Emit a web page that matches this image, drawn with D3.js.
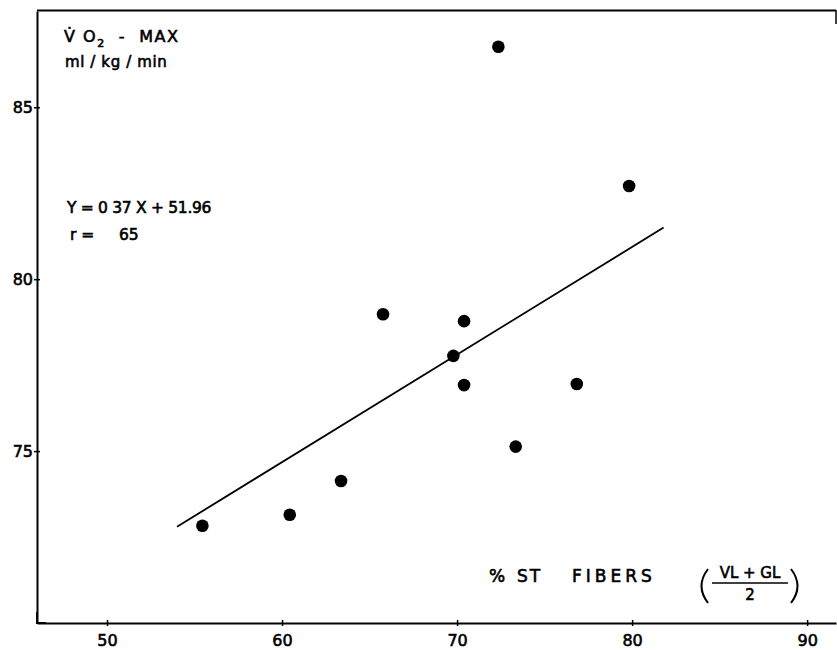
<!DOCTYPE html>
<html>
<head>
<meta charset="utf-8">
<script src="https://cdn.jsdelivr.net/npm/d3@7"></script>
<style>
  body { margin: 0; background: #fff; }
  svg text { font-family: "DejaVu Sans", sans-serif; fill: #000; }
  svg .lbl { stroke: #000; stroke-width: 0.6px; }
</style>
</head>
<body>
<svg id="chart"></svg>
<script>
// values
var xTicks = [50, 60, 70, 80, 90];
var yTicks = [75, 80, 85];
var fiberPct = [55.45, 60.44, 63.37, 65.77, 69.79, 70.4, 70.4, 73.35, 72.36, 79.83, 76.84];
var vo2max   = [72.83, 73.15, 74.13, 78.98, 77.77, 78.78, 76.92, 75.13, 86.76, 82.71, 76.95];
var fitX = [54.0, 81.8];
var fitY = [72.8, 81.5];
var eqText = "Y = 0 37 X + 51.96";
var rText = ["r =", "65"];

function render()
{
	var width = 837, height = 650;
	var svg = d3.select('#chart')
		.attr('width', width)
		.attr('height', height);

	var xScale = d3.scaleLinear().domain([46, 91.65]).range([37, 836]);
	var yScale = d3.scaleLinear().domain([70, 87.8]).range([623, 11]);

	// frame: top border and little right stub
	svg.append('line')
		.attr('x1', 37).attr('x2', 836)
		.attr('y1', 10.5).attr('y2', 10.5)
		.attr('stroke', '#000').attr('stroke-width', 2);
	svg.append('line')
		.attr('x1', 836).attr('x2', 836)
		.attr('y1', 10).attr('y2', 24)
		.attr('stroke', '#000').attr('stroke-width', 1.5);

	var xAxis = d3.axisBottom(xScale)
		.tickValues(xTicks)
		.tickSizeInner(3).tickSizeOuter(0)
		.tickPadding(9);
	var yAxis = d3.axisLeft(yScale)
		.tickValues(yTicks)
		.tickSizeInner(3).tickSizeOuter(0)
		.tickPadding(1);

	var gx = svg.append('g')
		.attr('transform', 'translate(0,623)')
		.call(xAxis);
	var gy = svg.append('g')
		.attr('transform', 'translate(37,0)')
		.call(yAxis);

	[gx, gy].forEach(function(g) {
		g.select('.domain').attr('stroke-width', 2);
		g.selectAll('text')
			.attr('class', 'lbl')
			.style('font-family', '"DejaVu Sans", sans-serif')
			.style('font-size', '16px')
			.attr('fill', '#000');
		g.selectAll('.tick line').attr('stroke-width', 1.5);
	});
	// ticks cross the axis line
	gx.selectAll('.tick line').attr('y1', -3).attr('y2', 3);
	gy.selectAll('.tick line').attr('x1', -3).attr('x2', 3);

	// small corner mark at origin
	svg.append('path')
		.attr('d', 'M37,612 L37,623 L46,623')
		.attr('fill', 'none').attr('stroke', '#000').attr('stroke-width', 2);

	// regression line
	svg.append('line')
		.attr('x1', xScale(fitX[0])).attr('y1', yScale(fitY[0]))
		.attr('x2', xScale(fitX[1])).attr('y2', yScale(fitY[1]))
		.attr('stroke', '#000').attr('stroke-width', 1.8);

	// points
	svg.append('g').selectAll('circle')
		.data(d3.range(fiberPct.length))
		.enter()
		.append('circle')
		.attr('cx', function(i) { return xScale(fiberPct[i]); })
		.attr('cy', function(i) { return yScale(vo2max[i]); })
		.attr('r', 6.3)
		.attr('fill', '#000');

	// y title
	var t1 = svg.append('text').attr('class', 'lbl')
		.attr('x', 64).attr('y', 42)
		.style('font-size', '16px')
		.style('letter-spacing', '1.5px');
	t1.append('tspan').text('V\u0307 O');
	t1.append('tspan').attr('dy', 5).style('font-size', '11px').text('2');
	t1.append('tspan').attr('dy', -5).attr('xml:space', 'preserve').text('  -  MAX');
	svg.append('text').attr('class', 'lbl')
		.attr('x', 65).attr('y', 67)
		.style('font-size', '15px')
		.style('letter-spacing', '0.6px')
		.text('ml / kg / min');

	// regression text
	svg.append('text').attr('class', 'lbl')
		.attr('x', 67).attr('y', 213)
		.style('font-size', '15.5px')
		.style('letter-spacing', '-0.3px')
		.text(eqText);
	svg.append('text').attr('class', 'lbl')
		.attr('x', 70).attr('y', 240)
		.style('font-size', '15.5px')
		.text(rText[0]);
	svg.append('text').attr('class', 'lbl')
		.attr('x', 119).attr('y', 240)
		.style('font-size', '15.5px')
		.text(rText[1]);

	// x title
	var xt = svg.append('g').style('font-size', '17px');
	xt.append('text').attr('class', 'lbl').attr('x', 489).attr('y', 582).text('%');
	xt.append('text').attr('class', 'lbl').attr('x', 517).attr('y', 582).style('letter-spacing', '2px').text('ST');
	xt.append('text').attr('class', 'lbl').attr('x', 572).attr('y', 582).style('letter-spacing', '4px').text('FIBERS');
	xt.append('text').attr('class', 'lbl').attr('x', 750).attr('y', 578)
		.attr('text-anchor', 'middle').style('font-size', '15px')
		.text('VL + GL');
	xt.append('line')
		.attr('x1', 712).attr('x2', 788).attr('y1', 583).attr('y2', 583)
		.attr('stroke', '#000').attr('stroke-width', 1.6);
	xt.append('text').attr('class', 'lbl').attr('x', 750).attr('y', 600)
		.attr('text-anchor', 'middle').style('font-size', '15px')
		.text('2');
	xt.append('path')
		.attr('d', 'M708,569 Q695,586 708,603')
		.attr('fill', 'none').attr('stroke', '#000').attr('stroke-width', 2);
	xt.append('path')
		.attr('d', 'M791,569 Q804,586 791,603')
		.attr('fill', 'none').attr('stroke', '#000').attr('stroke-width', 2);
}

render();
</script>
</body>
</html>
